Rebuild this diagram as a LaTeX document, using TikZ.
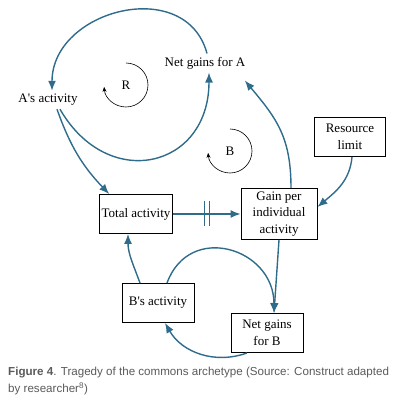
\documentclass[tikz,border=0pt]{standalone}
\usepackage{fontspec}
\setmainfont{Liberation Serif}
\setsansfont{Liberation Sans}
\usetikzlibrary{arrows.meta, calc}
\definecolor{linkblue}{HTML}{2F6C8C}
\definecolor{capgray}{HTML}{5A5A5A}

\begin{document}
\begin{tikzpicture}[x=1pt, y=1pt,
  every node/.style={font=\fontsize{13}{16.5}\selectfont},
  box/.style={draw, line width=0.9pt, minimum width=72pt, minimum height=39pt, align=center, inner sep=2pt},
  link/.style={draw=linkblue, line width=1.4pt, -{Latex[length=10pt,width=8pt]}},
  loopsign/.style={draw, line width=0.6pt, -{Stealth[length=5pt,width=4pt]}}]
\useasboundingbox (0,0) rectangle (405,405);

% variables
\node (netA) at (205,342) {Net gains for A};
\node (aact) at (48,305) {A\textquotesingle s activity};
\node[box] (total) at (136,191) {Total activity};
\node[box, minimum width=76pt, minimum height=51pt] (gain) at (279,191) {Gain per\\individual\\activity};
\node[box, minimum width=71pt] (res) at (350,268) {Resource\\limit};
\node[box] (bact) at (158,102) {B\textquotesingle s activity};
\node[box] (netB) at (267,72) {Net gains\\for B};

% loop markers
\node (R) at (126,320) {R};
\node (B) at (230,254) {B};
\draw[loopsign] (R.center) ++(90:22) arc[start angle=90, end angle=-175, radius=22];
\draw[loopsign] (B.center) ++(90:22) arc[start angle=90, end angle=-175, radius=22];

% links
\path[link] ([xshift=2pt]netA.north) to[out=105, in=90, looseness=1.3] ([xshift=4pt]aact.north);
\path[link] ([xshift=12pt]aact.south) to[out=-60, in=-90, looseness=1.6] ([xshift=4pt]netA.south);
\path[link] ([xshift=9pt]aact.south) to[bend right=12] ([xshift=10pt]total.north west);
\path[link] (total.east) -- coordinate (dly) (gain.west);
\draw[linkblue, line width=0.9pt] ([xshift=-2.5pt]dly) ++(0,-12) -- ++(0,25);
\draw[linkblue, line width=0.9pt] ([xshift=2.5pt]dly) ++(0,-12) -- ++(0,25);
\path[link] ([xshift=12pt]gain.north) to[out=90, in=-50, looseness=1.1] ([xshift=-4pt,yshift=-8pt]netA.south east);
\path[link] ([xshift=2pt]res.south) to[out=-95, in=40] ([yshift=7pt]gain.east);
\path[link] (gain.south) -- ([xshift=7pt]netB.north);
\path[link] ([xshift=9pt]bact.north) to[out=70, in=90, looseness=1.5] ([xshift=7pt]netB.north);
\path[link] ([xshift=-20pt]netB.south) to[out=-160, in=-60] ([xshift=7pt]bact.south);
\path[link] ([xshift=-18pt]bact.north) to[out=110, in=-90] ([xshift=-8pt]total.south);

% caption
\node[anchor=north west, align=left, inner sep=0pt, text=capgray,
  font=\sffamily\fontsize{11.6}{17}\selectfont] (cap) at (8,38)
  {\textbf{Figure 4}. Tragedy of the commons archetype (Source: Construct adapted\\by researcher\textsuperscript{8})};
\end{tikzpicture}
\end{document}
